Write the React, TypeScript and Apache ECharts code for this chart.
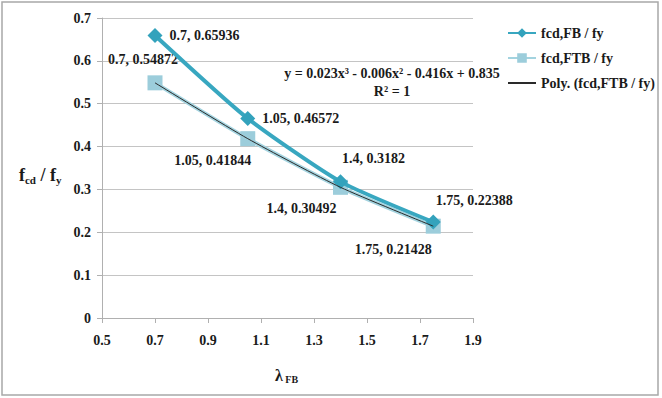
import React, { useEffect, useRef } from "react";
import * as echarts from "echarts";

const lambdaFB = [0.7, 1.05, 1.4, 1.75];
const fbValues = [0.65936, 0.46572, 0.3182, 0.22388];
const ftbValues = [0.54872, 0.41844, 0.30492, 0.21428];
const seriesNames = ["fcd,FB / fy", "fcd,FTB / fy", "Poly. (fcd,FTB / fy)"];
const equationText = "y = 0.023x³ - 0.006x² - 0.416x + 0.835";
const r2Text = "R² = 1";

const FONT = "Times New Roman";
const FS = 14;

const fbLabelPos: any[] = [
  { position: "right", offset: [2, 0] },
  { position: "right", offset: [2, 0] },
  { position: "top", offset: [33, -4] },
  { position: "top", offset: [41, -2] },
];
const ftbLabelPos: any[] = [
  { position: "top", offset: [-12, -4] },
  { position: "bottom", offset: [-35, 2] },
  { position: "bottom", offset: [-39, 2] },
  { position: "bottom", offset: [-40, 4] },
];

export default function App() {
  const ref = useRef<HTMLDivElement>(null);
  useEffect(() => {
    const chart = echarts.init(ref.current!, null, { renderer: "svg" });
    const labelStyle = {
      show: true,
      fontFamily: FONT,
      fontWeight: "bold",
      fontSize: FS,
      color: "#1a1a1a",
    };
    const fbData = lambdaFB.map((x, i) => ({
      value: [x, fbValues[i]],
      label: { ...labelStyle, ...fbLabelPos[i], formatter: `${x}, ${fbValues[i]}` },
    }));
    const ftbData = lambdaFB.map((x, i) => ({
      value: [x, ftbValues[i]],
      label: { ...labelStyle, ...ftbLabelPos[i], formatter: `${x}, ${ftbValues[i]}` },
    }));
    const polyData = lambdaFB.map((x, i) => [x, ftbValues[i]]);
    chart.setOption({
      animation: false,
      backgroundColor: "#ffffff",
      textStyle: { fontFamily: FONT },
      grid: { left: 102, right: 189, top: 18, bottom: 80 },
      xAxis: {
        type: "value",
        min: 0.5,
        max: 1.9,
        interval: 0.2,
        axisLine: { show: true, lineStyle: { color: "#b0b0b0", width: 1 } },
        axisTick: { show: true, length: 5, lineStyle: { color: "#b0b0b0" } },
        splitLine: { show: false },
        axisLabel: {
          fontFamily: FONT,
          fontWeight: "bold",
          fontSize: FS,
          color: "#1a1a1a",
          margin: 15,
          formatter: (v: number) => v.toFixed(1),
        },
      },
      yAxis: {
        type: "value",
        min: 0,
        max: 0.7,
        interval: 0.1,
        axisLine: { show: true, lineStyle: { color: "#b0b0b0", width: 1 } },
        axisTick: { show: true, length: 5, lineStyle: { color: "#b0b0b0" } },
        splitLine: { show: true, lineStyle: { color: "#c4c4c4", width: 1 } },
        axisLabel: {
          fontFamily: FONT,
          fontWeight: "bold",
          fontSize: FS,
          color: "#1a1a1a",
          margin: 11,
          formatter: (v: number) => (v === 0 ? "0" : v.toFixed(1)),
        },
      },
      legend: {
        orient: "vertical",
        left: 502,
        top: 21,
        itemWidth: 28,
        itemHeight: 12,
        itemGap: 11,
        textStyle: {
          fontFamily: FONT,
          fontWeight: "bold",
          fontSize: FS,
          color: "#1a1a1a",
        },
        data: [
          { name: seriesNames[0] },
          { name: seriesNames[1] },
          { name: seriesNames[2], itemStyle: { opacity: 0 } },
        ],
      },
      series: [
        {
          name: seriesNames[0],
          type: "line",
          smooth: 0.2,
          data: fbData,
          symbol: "diamond",
          symbolSize: 15,
          lineStyle: { color: "#38a7c0", width: 4 },
          itemStyle: { color: "#33a2bc" },
          z: 3,
        },
        {
          name: seriesNames[1],
          type: "line",
          smooth: 0.2,
          data: ftbData,
          symbol: "rect",
          symbolSize: 15,
          lineStyle: { color: "#a3d3df", width: 4 },
          itemStyle: { color: "#9ccddb" },
          z: 2,
        },
        {
          name: seriesNames[2],
          type: "line",
          smooth: 0.2,
          data: polyData,
          symbol: "none",
          lineStyle: { color: "#2a2a2a", width: 1 },
          itemStyle: { color: "#2a2a2a" },
          z: 4,
        },
      ],
      graphic: [
        {
          type: "rect",
          shape: { x: 2, y: 2, width: 656, height: 393 },
          style: { fill: "none", stroke: "#a8a8a8", lineWidth: 1.5 },
          silent: true,
          z: 0,
        },
        {
          type: "text",
          x: 392,
          y: 73,
          style: {
            text: equationText,
            align: "center",
            verticalAlign: "middle",
            fontFamily: FONT,
            fontWeight: "bold",
            fontSize: FS,
            fill: "#1a1a1a",
          },
        },
        {
          type: "text",
          x: 392,
          y: 91,
          style: {
            text: r2Text,
            align: "center",
            verticalAlign: "middle",
            fontFamily: FONT,
            fontWeight: "bold",
            fontSize: FS,
            fill: "#1a1a1a",
          },
        },
        {
          type: "text",
          x: 19,
          y: 175,
          style: {
            text: "{f|f}{s|cd}{f| / f}{s|y}",
            verticalAlign: "middle",
            rich: {
              f: { fontFamily: FONT, fontWeight: "bold", fontSize: 18, fill: "#1a1a1a" },
              s: { fontFamily: FONT, fontWeight: "bold", fontSize: 11, fill: "#1a1a1a", padding: [9, 0, 0, 0] },
            },
          },
        },
        {
          type: "text",
          x: 275,
          y: 375,
          style: {
            text: "{f|λ}{s| FB}",
            verticalAlign: "middle",
            rich: {
              f: { fontFamily: FONT, fontWeight: "bold", fontSize: 16, fill: "#1a1a1a" },
              s: { fontFamily: FONT, fontWeight: "bold", fontSize: 10, fill: "#1a1a1a", padding: [8, 0, 0, 0] },
            },
          },
        },
      ],
    });
    return () => chart.dispose();
  }, []);
  return (
    <div
      ref={ref}
      style={{ position: "fixed", left: 0, top: 0, width: 662, height: 398 }}
    />
  );
}
